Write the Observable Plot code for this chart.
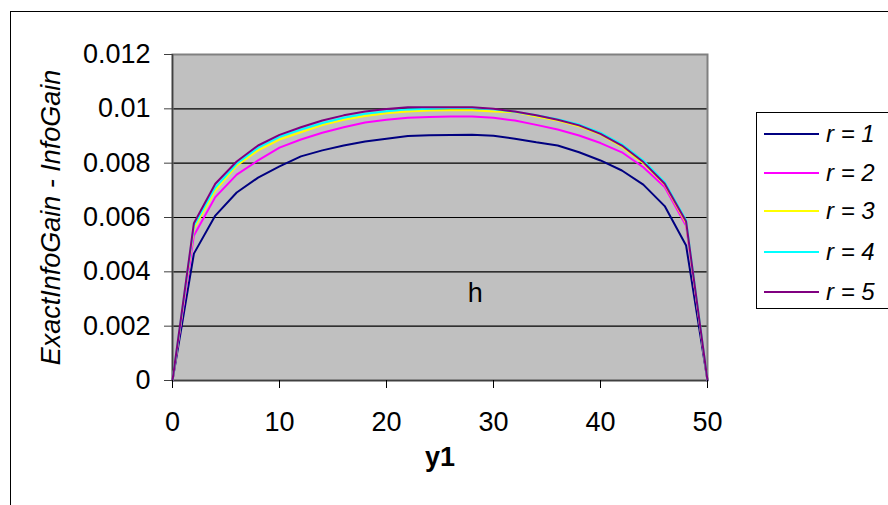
<!DOCTYPE html>
<html>
<head>
<meta charset="utf-8">
<script src="https://cdn.jsdelivr.net/npm/d3@7"></script>
<script src="https://cdn.jsdelivr.net/npm/@observablehq/plot@0.6"></script>
<style>
  html, body { margin: 0; padding: 0; background: #fff; }
  #wrap { position: relative; width: 888px; height: 505px; overflow: hidden; font-family: "Liberation Sans", Arial, sans-serif; }
  #outer { position: absolute; left: 10px; top: 11px; width: 1000px; height: 1000px; border-left: 1px solid #000; border-top: 1px solid #000; box-sizing: border-box; }
  #chart { position: absolute; left: 0; top: 0; }
  #legend { position: absolute; left: 756px; top: 112px; width: 160px; height: 197px; border: 1px solid #000; box-sizing: border-box; background: #fff; }
  .item { position: absolute; left: 7px; height: 30px; display: flex; align-items: center; }
  .item svg { display: block; }
  .item span { margin-left: 7px; font-style: italic; font-size: 24px; color: #000; }
</style>
</head>
<body>
<div id="wrap">
  <div id="outer"></div>
  <div id="chart"></div>
  <div id="legend"></div>
</div>
<script>
const xValues = [0, 2, 4, 6, 8, 10, 12, 14, 16, 18, 20, 22, 24, 26, 28, 30, 32, 34, 36, 38, 40, 42, 44, 46, 48, 50];
const r1 = [0, 0.00467, 0.00607, 0.00692, 0.00747, 0.00788, 0.00825, 0.00847, 0.00865, 0.0088, 0.0089, 0.0090, 0.00903, 0.00904, 0.00905, 0.00901, 0.0089, 0.00877, 0.00865, 0.0084, 0.0081, 0.00773, 0.00721, 0.00642, 0.00497, 0];
const r2 = [0, 0.00534, 0.00675, 0.00758, 0.0081, 0.00857, 0.00887, 0.00912, 0.00932, 0.0095, 0.0096, 0.00967, 0.0097, 0.00972, 0.00972, 0.00967, 0.00957, 0.00941, 0.00924, 0.00902, 0.00874, 0.0084, 0.00785, 0.00712, 0.0057, 0];
const r3 = [0, 0.0056, 0.0070, 0.00791, 0.00847, 0.00887, 0.00914, 0.0094, 0.0096, 0.00974, 0.00984, 0.0099, 0.00994, 0.00995, 0.00995, 0.0099, 0.00988, 0.00972, 0.00957, 0.00936, 0.00906, 0.00861, 0.0080, 0.00721, 0.0058, 0];
const r4 = [0, 0.0057, 0.0071, 0.00798, 0.00857, 0.00897, 0.00924, 0.00948, 0.00967, 0.00982, 0.00991, 0.00998, 0.0100, 0.01003, 0.01003, 0.00998, 0.00989, 0.00976, 0.00962, 0.00942, 0.00912, 0.00869, 0.0081, 0.0073, 0.0059, 0];
const r5 = [0, 0.00579, 0.00724, 0.00806, 0.00865, 0.00904, 0.00932, 0.00957, 0.00976, 0.0099, 0.00999, 0.01006, 0.01006, 0.01006, 0.01006, 0.0100, 0.0099, 0.00976, 0.0096, 0.00939, 0.00908, 0.00865, 0.00804, 0.00724, 0.00585, 0];
const seriesNames = ["r = 1", "r = 2", "r = 3", "r = 4", "r = 5"];
const seriesColors = ["#000080", "#FF00FF", "#FFFF00", "#00FFFF", "#800080"];
const yTicks = [0, 0.002, 0.004, 0.006, 0.008, 0.01, 0.012];
const xTicks = [0, 10, 20, 30, 40, 50];
const gridLines = [0.002, 0.004, 0.006, 0.008, 0.01];
const annotations = [{x: 28.3, y: 0.00319, text: "h"}];
const xTitle = "y1";
const yTitle = "ExactInfoGain - InfoGain";

const allSeries = [r1, r2, r3, r4, r5];
const data = [];
allSeries.forEach((vals, i) => vals.forEach((v, j) => data.push({x: xValues[j], y: v, series: seriesNames[i]})));

const fmt = d => d === 0 ? "0" : String(+d.toFixed(3));
const FS = 27;

const chart = Plot.plot({
  width: 888,
  height: 505,
  marginLeft: 172,
  marginRight: 181,
  marginTop: 54,
  marginBottom: 125,
  style: {fontFamily: "'Liberation Sans', Arial, sans-serif", fontSize: FS + "px", background: "transparent", color: "#000"},
  x: {domain: [0, 50]},
  y: {domain: [0, 0.012]},
  color: {domain: seriesNames, range: seriesColors},
  marks: [
    Plot.frame({fill: "#C0C0C0", stroke: null}),
    Plot.ruleY(gridLines, {stroke: "#000", strokeWidth: 1.2}),
    Plot.frame({stroke: "#808080", strokeWidth: 2}),
    Plot.ruleX([0], {stroke: "#404040", strokeWidth: 1.5}),
    Plot.ruleY([0], {stroke: "#404040", strokeWidth: 1.5}),
    Plot.line(data, {x: "x", y: "y", z: "series", stroke: "series", strokeWidth: 2, strokeLinejoin: "miter"}),
    Plot.text(annotations, {x: "x", y: "y", text: "text", fontSize: FS, fill: "#000"}),
    Plot.axisY(yTicks, {tickFormat: fmt, tickSize: 8, tickPadding: 14, fontSize: FS, stroke: "#404040", label: null}),
    Plot.axisX(xTicks, {tickFormat: d => String(d), tickSize: 8, tickPadding: 23, fontSize: FS, label: null}),
    Plot.text([yTitle], {frameAnchor: "left", textAnchor: "middle", dx: -121, rotate: -90, fontStyle: "italic", fontSize: FS, fill: "#000"}),
    Plot.text([xTitle], {frameAnchor: "bottom", textAnchor: "middle", dy: 85, fontWeight: "bold", fontSize: FS, fill: "#000"})
  ]
});
document.getElementById("chart").appendChild(chart);

const legend = document.getElementById("legend");
const rowTops = [6, 44.5, 83, 124, 164];
seriesNames.forEach((name, i) => {
  const item = document.createElement("div");
  item.className = "item";
  item.style.top = rowTops[i] + "px";
  item.innerHTML = `<svg width="55" height="4"><line x1="0" x2="55" y1="2" y2="2" stroke="${seriesColors[i]}" stroke-width="2"/></svg><span>${name}</span>`;
  legend.appendChild(item);
});
</script>
</body>
</html>
